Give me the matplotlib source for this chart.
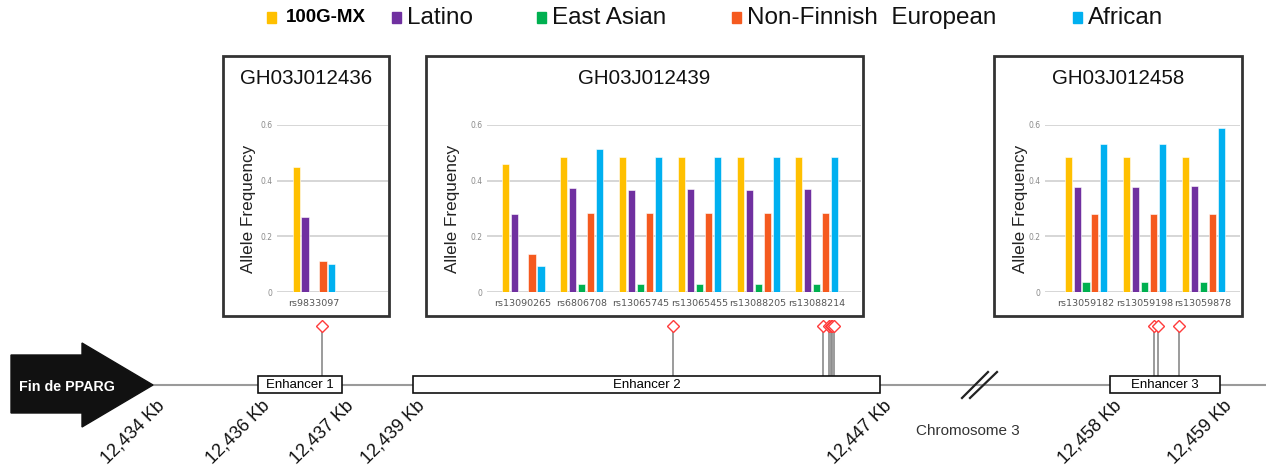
import numpy as np
import matplotlib; matplotlib.use("Agg")
import matplotlib.pyplot as plt
from matplotlib.patches import Rectangle, Polygon

plt.rcParams["font.family"] = ["Liberation Sans", "DejaVu Sans"]

# --- data ---
POPS = ["100G-MX", "Latino", "East Asian", "Non-Finnish  European", "African"]
COLORS = ["#FFC000", "#7030A0", "#00B050", "#F55A1F", "#00B0F0"]

P1_TITLE = "GH03J012436"
P1_SNPS = ["rs9833097"]
P1_FREQ = [[0.45], [0.27], [0.0], [0.11], [0.10]]

P2_TITLE = "GH03J012439"
P2_SNPS = ["rs13090265", "rs6806708", "rs13065745", "rs13065455", "rs13088205", "rs13088214"]
P2_FREQ = [[0.46, 0.485, 0.485, 0.485, 0.485, 0.485],
           [0.28, 0.372, 0.368, 0.370, 0.368, 0.370],
           [0.0, 0.030, 0.028, 0.028, 0.030, 0.030],
           [0.135, 0.283, 0.283, 0.283, 0.283, 0.283],
           [0.095, 0.513, 0.486, 0.486, 0.486, 0.486]]

P3_TITLE = "GH03J012458"
P3_SNPS = ["rs13059182", "rs13059198", "rs13059878"]
P3_FREQ = [[0.485, 0.485, 0.485],
           [0.377, 0.377, 0.380],
           [0.035, 0.035, 0.035],
           [0.280, 0.280, 0.280],
           [0.533, 0.532, 0.588]]

YTICKS = [0, 0.2, 0.4, 0.6]
YTICKLABELS = ["0", "0.2", "0.4", "0.6"]

# schematic (drawn in a pixel-like coordinate frame)
KB_LABELS = ["12,434 Kb", "12,436 Kb", "12,437 Kb", "12,439 Kb", "12,447 Kb", "12,458 Kb", "12,459 Kb"]
KB_POS = [153, 258, 342, 413, 880, 1110, 1220]
ENH_NAMES = ["Enhancer 1", "Enhancer 2", "Enhancer 3"]
ENH_SPANS = [(258, 342), (413, 880), (1110, 1220)]
SNP_POS = [322, 673, 823, 829, 830.5, 832, 833.5, 1154, 1158, 1179]

W, H = 1266, 465
fig = plt.figure(figsize=(W / 100, H / 100), dpi=100)
ax0 = fig.add_axes([0, 0, 1, 1]); ax0.set_xlim(0, W); ax0.set_ylim(H, 0); ax0.axis("off")

def fax(x0, x1, ytop, ybot):
    return fig.add_axes([x0 / W, 1 - ybot / H, (x1 - x0) / W, (ybot - ytop) / H])

def panel(box, axr, xlim, title, snps, freq):
    bx0, bx1 = box
    ax0.add_patch(Rectangle((bx0, 56), bx1 - bx0, 260, fill=False, ec="#333333", lw=2, zorder=1))
    ax0.text((bx0 + bx1) / 2, 78, title, ha="center", va="center", fontsize=14.8, color="#111111")
    ax0.text(bx0 + 26, 209, "Allele Frequency", rotation=90, ha="center", va="center", fontsize=12.3, color="#222222")
    ax = fax(axr[0], axr[1], 125, 292)
    ax.set_facecolor("none")
    x = np.arange(len(snps))
    for i, (vals, c) in enumerate(zip(freq, COLORS)):
        ax.bar(x + (i - 2) * 0.153, vals, width=0.12, color=c, ec="white", lw=0.4, zorder=3)
    ax.set_xlim(*xlim); ax.set_ylim(0, 0.6)
    ax.set_yticks(YTICKS); ax.set_yticklabels(YTICKLABELS, fontsize=5.5, color="#8a8a8a", family="DejaVu Sans")
    ax.set_xticks(x); ax.set_xticklabels(snps, fontsize=6.8, color="#555555", family="DejaVu Sans")
    ax.tick_params(length=0, pad=3)
    ax.tick_params(axis="x", pad=5)
    for s in ax.spines.values(): s.set_visible(False)
    ax.yaxis.grid(True, color="#cfcfcf", lw=1.2, clip_on=True); ax.set_axisbelow(True)

panel((223, 389), (277, 388), (-0.63, 1.26), P1_TITLE, P1_SNPS, P1_FREQ)
panel((426, 863), (487, 861), (-0.613, 5.75), P2_TITLE, P2_SNPS, P2_FREQ)
panel((994, 1242), (1045, 1240), (-0.70, 2.63), P3_TITLE, P3_SNPS, P3_FREQ)

# legend
leg_sq = [267, 392, 537, 732, 1073]
for i, (p, c) in enumerate(zip(POPS, COLORS)):
    ax0.add_patch(Rectangle((leg_sq[i], 12), 9, 11, color=c))
    if i == 0:
        ax0.text(leg_sq[i] + 19, 18, p, fontsize=13.5, fontweight="bold", va="center", ha="left")
    else:
        ax0.text(leg_sq[i] + 15, 18, p, fontsize=17.5, va="center", ha="left", color="#111111")

# genome line
ax0.plot([153, W], [385, 385], color="#9a9a9a", lw=1.5, zorder=1)
ax0.plot([962, 988], [398, 372], color="#222222", lw=1.6, zorder=2)
ax0.plot([970, 997], [398, 372], color="#222222", lw=1.6, zorder=2)
ax0.text(968, 431, "Chromosome 3", fontsize=11, color="#333333", ha="center", va="center")

# arrow
ax0.add_patch(Polygon([(11, 355), (82, 355), (82, 343), (153, 385), (82, 427), (82, 413), (11, 413)],
                      closed=True, color="#111111", zorder=3))
ax0.text(67, 387, "Fin de PPARG", color="white", fontweight="bold", fontsize=10.3, ha="center", va="center", zorder=4)

# enhancers
for name, (a, b) in zip(ENH_NAMES, ENH_SPANS):
    ax0.add_patch(Rectangle((a, 376), b - a, 17, fc="white", ec="#111111", lw=1.2, zorder=3))
    ax0.text((a + b) / 2, 384.5, name, fontsize=9.5, ha="center", va="center", zorder=4)

# SNP stems + diamonds
for x in SNP_POS:
    ax0.plot([x, x], [330, 376], color="#8a8a8a", lw=1.2, zorder=2)
    ax0.plot(x, 326, marker="D", ms=6, mfc="white", mec="#ff3b3b", mew=1.0, zorder=5)

# kb ticks
for lab, x in zip(KB_LABELS, KB_POS):
    ax0.text(x + 3, 397, lab, rotation=45, rotation_mode="anchor", ha="right", va="top", fontsize=13, color="#111111")

fig.savefig("out.png", dpi=100, facecolor="white")
